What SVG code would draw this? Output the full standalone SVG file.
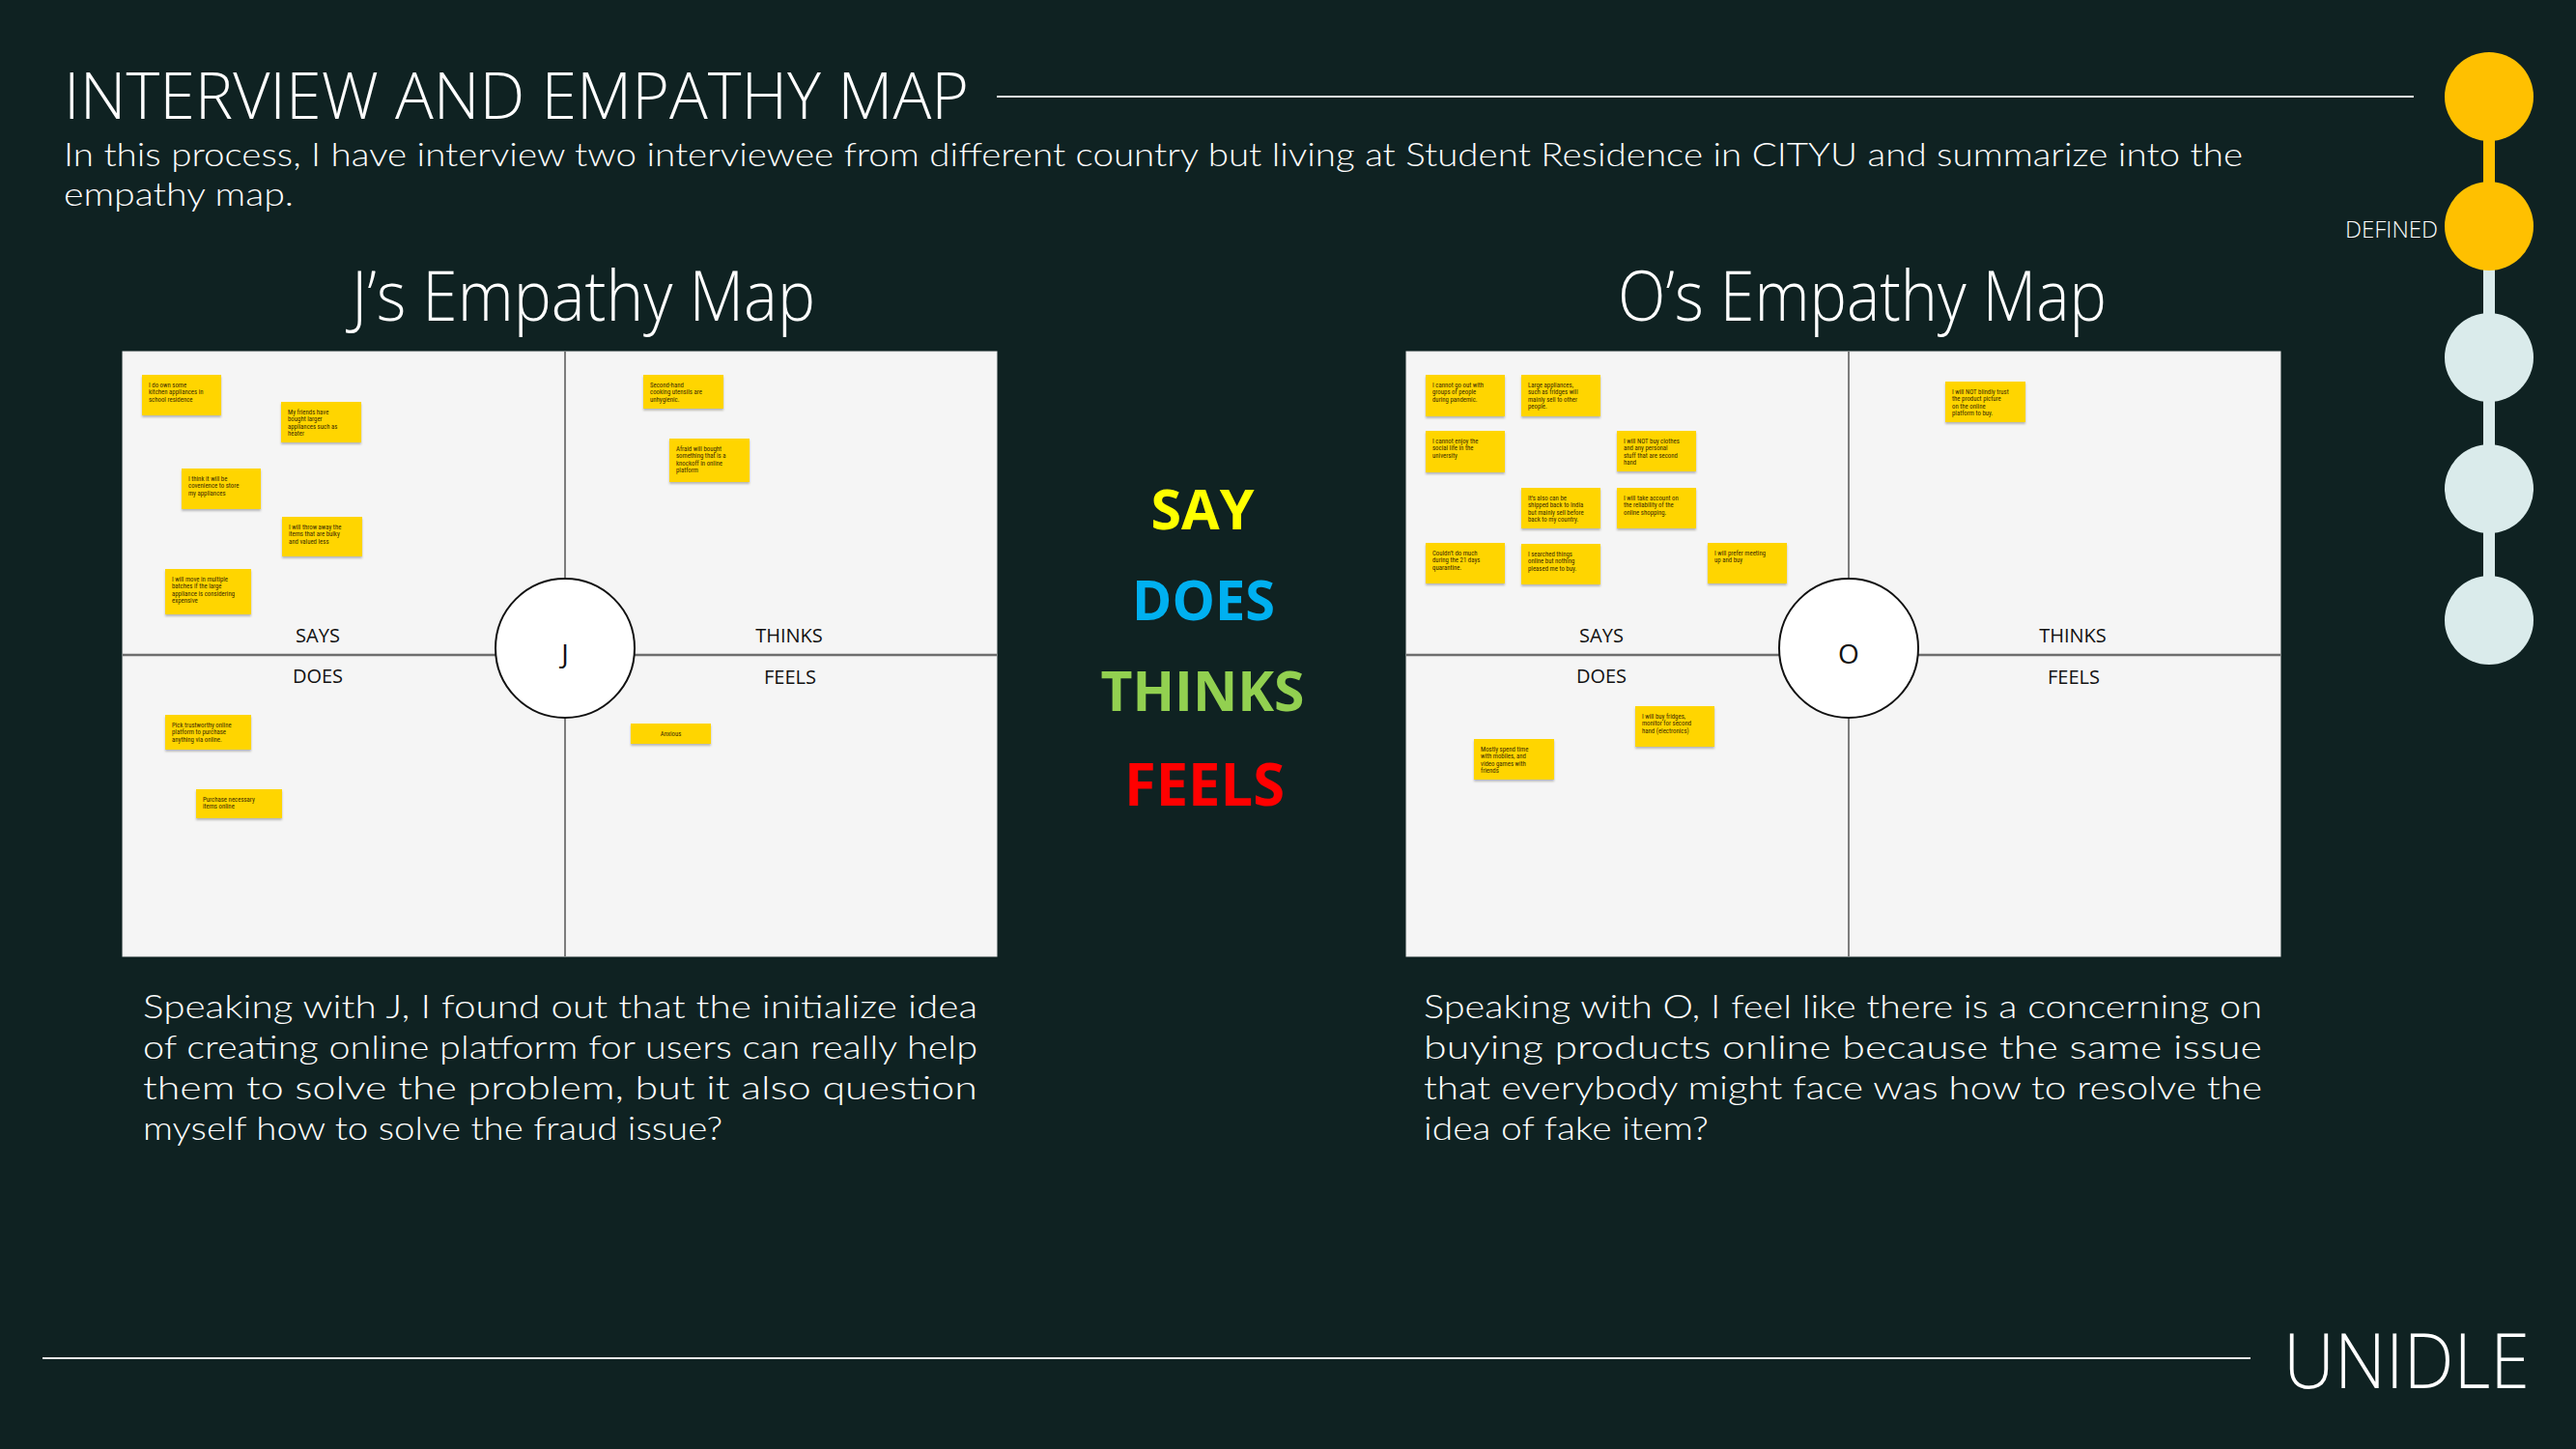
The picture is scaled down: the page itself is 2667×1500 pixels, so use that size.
<svg xmlns="http://www.w3.org/2000/svg" width="2667" height="1500" viewBox="0 0 2667 1500">
<defs>
<style>
.lt{font-family:"Open Sans","Segoe UI","Liberation Sans",sans-serif;font-weight:300;fill:#ffffff}
.sub{font-family:Lato,"Open Sans","Liberation Sans",sans-serif;font-weight:300;fill:#ffffff;font-size:34px}
.hd{font-family:"Open Sans","Segoe UI","Liberation Sans",sans-serif;font-weight:300;fill:#ffffff;font-size:72px;text-anchor:middle}
.big{font-family:"Open Sans","Segoe UI","Liberation Sans",sans-serif;font-weight:700;text-anchor:middle}
.lbl{font-family:"Open Sans","Segoe UI","Liberation Sans",sans-serif;font-size:20px;fill:#111;text-anchor:middle}
.ini{font-family:"Open Sans","Segoe UI","Liberation Sans",sans-serif;font-size:28px;fill:#111;text-anchor:middle}
.box{fill:#f5f5f5;stroke:#e6e6e6;stroke-width:1}
.hl{stroke:#6e6e6e;stroke-width:2.5}
.vl{stroke:#555;stroke-width:1.5}
.ctr{fill:#ffffff;stroke:#111;stroke-width:2}
.note rect{fill:#FFD500;filter:url(#sh)}
.note text{font-family:"Liberation Sans Narrow","Roboto Condensed","Liberation Sans",sans-serif;font-size:6.8px;fill:#3a2c00}
.par{font-family:Lato,"Open Sans","Liberation Sans",sans-serif;font-weight:300;fill:#ffffff;font-size:34px}
.rule{stroke:#e8e8e8;stroke-width:2}
.ybar{fill:#FFC000}
.gbar{fill:#DAEBEB}
</style>
<filter id="sh" x="-10%" y="-10%" width="130%" height="140%">
<feDropShadow dx="0" dy="2" stdDeviation="1.2" flood-color="#000" flood-opacity="0.25"/>
</filter>
</defs>
<rect x="0" y="0" width="2667" height="1500" fill="#0f2222"/>

<g id="header">
<text class="lt" x="66" y="123" font-size="66" textLength="937" lengthAdjust="spacingAndGlyphs">INTERVIEW AND EMPATHY MAP</text>
<line class="rule" x1="1032" y1="100" x2="2499" y2="100"/>
<text class="sub" x="66" y="172" textLength="2256" lengthAdjust="spacingAndGlyphs">In this process, I have interview two interviewee from different country but living at Student Residence in CITYU and summarize into the</text>
<text class="sub" x="66" y="213" textLength="238" lengthAdjust="spacingAndGlyphs">empathy map.</text>
</g>

<g id="connectors">
<rect class="ybar" x="2571" y="100" width="12" height="134"/>
<rect class="gbar" x="2571" y="234" width="12" height="408"/>
</g>

<g id="timeline">
<circle cx="2577" cy="100" r="46" fill="#FFC000"/>
<circle cx="2577" cy="234" r="46" fill="#FFC000"/>
<circle cx="2577" cy="370" r="46" fill="#DAEBEB"/>
<circle cx="2577" cy="506" r="46" fill="#DAEBEB"/>
<circle cx="2577" cy="642" r="46" fill="#DAEBEB"/>
<text class="lt" x="2428" y="246" font-size="24" font-weight="400" textLength="96" lengthAdjust="spacingAndGlyphs">DEFINED</text>
</g>

<g id="map-j">
<text class="hd" x="604" y="332" textLength="480" lengthAdjust="spacingAndGlyphs">J’s Empathy Map</text>
<rect class="box" x="127" y="364" width="905" height="626"/>
<line class="hl" x1="127" y1="678" x2="1032" y2="678"/>
<line class="vl" x1="585" y1="364" x2="585" y2="990"/>
<circle class="ctr" cx="585" cy="671" r="72"/>
<text class="ini" x="585" y="687">J</text>
<text class="lbl" x="329" y="665">SAYS</text>
<text class="lbl" x="817" y="665">THINKS</text>
<text class="lbl" x="329" y="707">DOES</text>
<text class="lbl" x="818" y="708">FEELS</text>
</g>

<g id="note-j1" class="note"><rect x="147" y="388" width="82" height="42"/><text x="154" y="401"><tspan x="154">I do own some</tspan><tspan x="154" dy="7.3">kitchen appliances in</tspan><tspan x="154" dy="7.3">school residence</tspan></text></g>
<g id="note-j2" class="note"><rect x="291" y="416" width="83" height="42"/><text x="298" y="429"><tspan x="298">My friends have</tspan><tspan x="298" dy="7.3">bought larger</tspan><tspan x="298" dy="7.3">appliances such as</tspan><tspan x="298" dy="7.3">heater</tspan></text></g>
<g id="note-j3" class="note"><rect x="188" y="485" width="82" height="42"/><text x="195" y="498"><tspan x="195">I think it will be</tspan><tspan x="195" dy="7.3">covenience to store</tspan><tspan x="195" dy="7.3">my appliances</tspan></text></g>
<g id="note-j4" class="note"><rect x="292" y="535" width="83" height="41"/><text x="299" y="548"><tspan x="299">I will throw away the</tspan><tspan x="299" dy="7.3">items that are bulky</tspan><tspan x="299" dy="7.3">and valued less</tspan></text></g>
<g id="note-j5" class="note"><rect x="171" y="589" width="89" height="47"/><text x="178" y="602"><tspan x="178">I will move in multiple</tspan><tspan x="178" dy="7.3">batches if the large</tspan><tspan x="178" dy="7.3">appliance is considering</tspan><tspan x="178" dy="7.3">expensive</tspan></text></g>
<g id="note-j6" class="note"><rect x="666" y="388" width="83" height="35"/><text x="673" y="401"><tspan x="673">Second-hand</tspan><tspan x="673" dy="7.3">cooking utensils are</tspan><tspan x="673" dy="7.3">unhygienic.</tspan></text></g>
<g id="note-j7" class="note"><rect x="693" y="454" width="83" height="45"/><text x="700" y="467"><tspan x="700">Afraid will bought</tspan><tspan x="700" dy="7.3">something that is a</tspan><tspan x="700" dy="7.3">knockoff in online</tspan><tspan x="700" dy="7.3">platform</tspan></text></g>
<g id="note-j8" class="note"><rect x="171" y="740" width="89" height="36"/><text x="178" y="753"><tspan x="178">Pick trustworthy online</tspan><tspan x="178" dy="7.3">platform to purchase</tspan><tspan x="178" dy="7.3">anything via online.</tspan></text></g>
<g id="note-j9" class="note"><rect x="203" y="817" width="89" height="30"/><text x="210" y="830"><tspan x="210">Purchase necessary</tspan><tspan x="210" dy="7.3">items online</tspan></text></g>
<g id="note-j10" class="note"><rect x="653" y="749" width="83" height="21"/><text x="694.5" y="762" text-anchor="middle">Anxious</text></g>

<g id="center-legend">
<text class="big" x="1245" y="548" font-size="57" fill="#FFFF00" textLength="107" lengthAdjust="spacingAndGlyphs">SAY</text>
<text class="big" x="1246" y="642" font-size="57" fill="#00B0F0" textLength="148" lengthAdjust="spacingAndGlyphs">DOES</text>
<text class="big" x="1245" y="736" font-size="57" fill="#92D050" textLength="211" lengthAdjust="spacingAndGlyphs">THINKS</text>
<text class="big" x="1247" y="834" font-size="61" fill="#FF0000" textLength="166" lengthAdjust="spacingAndGlyphs">FEELS</text>
</g>

<g id="map-o">
<text class="hd" x="1928" y="332" textLength="506" lengthAdjust="spacingAndGlyphs">O’s Empathy Map</text>
<rect class="box" x="1456" y="364" width="905" height="626"/>
<line class="hl" x1="1456" y1="678" x2="2361" y2="678"/>
<line class="vl" x1="1914" y1="364" x2="1914" y2="990"/>
<circle class="ctr" cx="1914" cy="671" r="72"/>
<text class="ini" x="1914" y="687">O</text>
<text class="lbl" x="1658" y="665">SAYS</text>
<text class="lbl" x="2146" y="665">THINKS</text>
<text class="lbl" x="1658" y="707">DOES</text>
<text class="lbl" x="2147" y="708">FEELS</text>
</g>

<g id="note-o1" class="note"><rect x="1476" y="388" width="82" height="43"/><text x="1483" y="401"><tspan x="1483">I cannot go out with</tspan><tspan x="1483" dy="7.3">groups of people</tspan><tspan x="1483" dy="7.3">during pandemic.</tspan></text></g>
<g id="note-o2" class="note"><rect x="1575" y="388" width="82" height="43"/><text x="1582" y="401"><tspan x="1582">Large appliances,</tspan><tspan x="1582" dy="7.3">such as fridges will</tspan><tspan x="1582" dy="7.3">mainly sell to other</tspan><tspan x="1582" dy="7.3">people.</tspan></text></g>
<g id="note-o3" class="note"><rect x="1476" y="446" width="82" height="43"/><text x="1483" y="459"><tspan x="1483">I cannot enjoy the</tspan><tspan x="1483" dy="7.3">social life in the</tspan><tspan x="1483" dy="7.3">university</tspan></text></g>
<g id="note-o4" class="note"><rect x="1674" y="446" width="82" height="42"/><text x="1681" y="459"><tspan x="1681">I will NOT buy clothes</tspan><tspan x="1681" dy="7.3">and any personal</tspan><tspan x="1681" dy="7.3">stuff that are second</tspan><tspan x="1681" dy="7.3">hand</tspan></text></g>
<g id="note-o5" class="note"><rect x="1575" y="505" width="82" height="42"/><text x="1582" y="518"><tspan x="1582">It’s also can be</tspan><tspan x="1582" dy="7.3">shipped back to India</tspan><tspan x="1582" dy="7.3">but mainly sell before</tspan><tspan x="1582" dy="7.3">back to my country.</tspan></text></g>
<g id="note-o6" class="note"><rect x="1674" y="505" width="82" height="42"/><text x="1681" y="518"><tspan x="1681">I will take account on</tspan><tspan x="1681" dy="7.3">the reliability of the</tspan><tspan x="1681" dy="7.3">online shopping.</tspan></text></g>
<g id="note-o7" class="note"><rect x="1476" y="562" width="82" height="42"/><text x="1483" y="575"><tspan x="1483">Couldn’t do much</tspan><tspan x="1483" dy="7.3">during the 21 days</tspan><tspan x="1483" dy="7.3">quarantine.</tspan></text></g>
<g id="note-o8" class="note"><rect x="1575" y="563" width="82" height="42"/><text x="1582" y="576"><tspan x="1582">I searched things</tspan><tspan x="1582" dy="7.3">online but nothing</tspan><tspan x="1582" dy="7.3">pleased me to buy.</tspan></text></g>
<g id="note-o9" class="note"><rect x="1768" y="562" width="82" height="42"/><text x="1775" y="575"><tspan x="1775">I will prefer meeting</tspan><tspan x="1775" dy="7.3">up and buy</tspan></text></g>
<g id="note-o10" class="note"><rect x="2014" y="395" width="83" height="42"/><text x="2021" y="408"><tspan x="2021">I will NOT blindly trust</tspan><tspan x="2021" dy="7.3">the product picture</tspan><tspan x="2021" dy="7.3">on the online</tspan><tspan x="2021" dy="7.3">platform to buy.</tspan></text></g>
<g id="note-o11" class="note"><rect x="1693" y="731" width="82" height="42"/><text x="1700" y="744"><tspan x="1700">I will buy fridges,</tspan><tspan x="1700" dy="7.3">monitor for second</tspan><tspan x="1700" dy="7.3">hand (electronics)</tspan></text></g>
<g id="note-o12" class="note"><rect x="1526" y="765" width="83" height="42"/><text x="1533" y="778"><tspan x="1533">Mostly spend time</tspan><tspan x="1533" dy="7.3">with mobiles, and</tspan><tspan x="1533" dy="7.3">video games with</tspan><tspan x="1533" dy="7.3">friends</tspan></text></g>

<g id="summary-j">
<text class="par" x="148" y="1054" textLength="864" lengthAdjust="spacingAndGlyphs">Speaking with J, I found out that the initialize idea</text>
<text class="par" x="148" y="1096" textLength="864" lengthAdjust="spacingAndGlyphs">of creating online platform for users can really help</text>
<text class="par" x="148" y="1138" textLength="864" lengthAdjust="spacingAndGlyphs">them  to  solve  the  problem,  but  it  also  question</text>
<text class="par" x="148" y="1180" textLength="600" lengthAdjust="spacingAndGlyphs">myself how to solve the fraud issue?</text>
</g>

<g id="summary-o">
<text class="par" x="1474" y="1054" textLength="868" lengthAdjust="spacingAndGlyphs">Speaking with O, I feel like there is a concerning on</text>
<text class="par" x="1474" y="1096" textLength="868" lengthAdjust="spacingAndGlyphs">buying  products  online  because  the  same  issue</text>
<text class="par" x="1474" y="1138" textLength="868" lengthAdjust="spacingAndGlyphs">that everybody might face was how to resolve the</text>
<text class="par" x="1474" y="1180" textLength="295" lengthAdjust="spacingAndGlyphs">idea of fake item?</text>
</g>

<g id="footer">
<line class="rule" x1="44" y1="1406" x2="2330" y2="1406"/>
<text class="lt" x="2364" y="1437" font-size="80" textLength="255" lengthAdjust="spacingAndGlyphs">UNIDLE</text>
</g>
</svg>
